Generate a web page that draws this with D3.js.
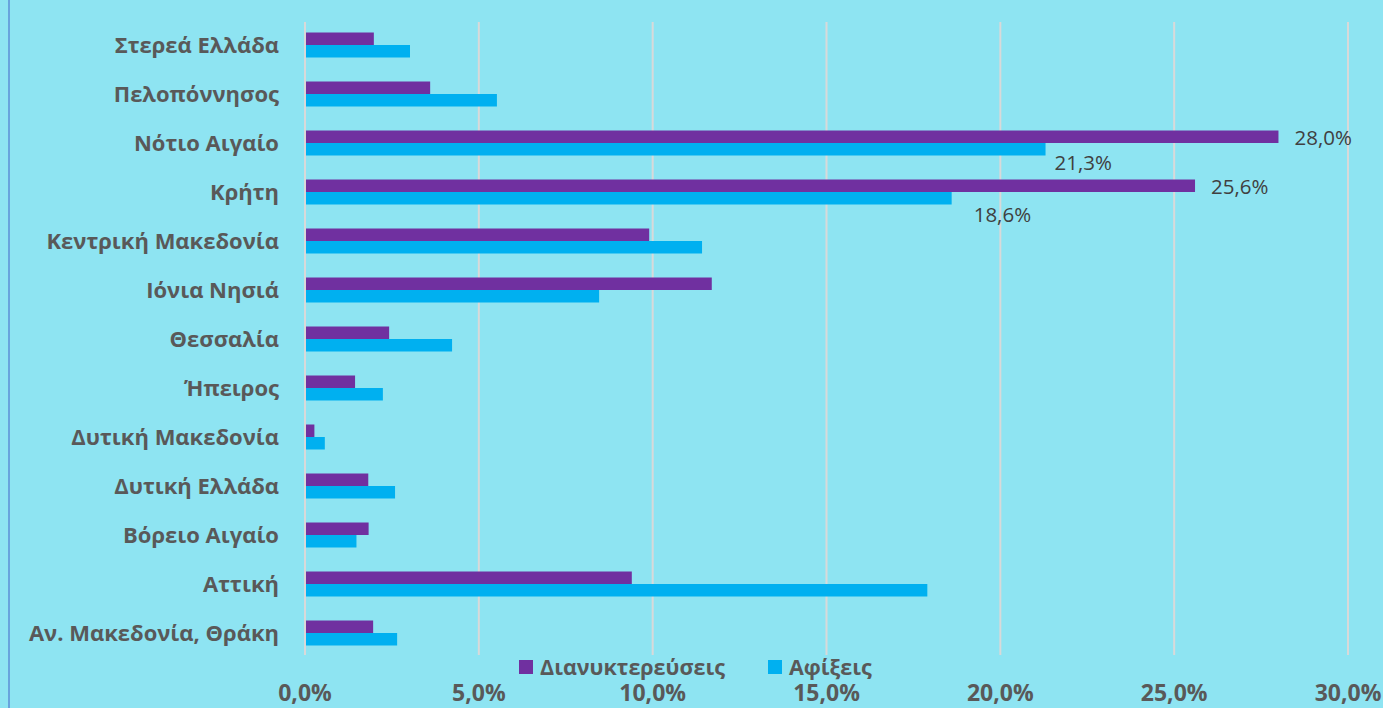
<!DOCTYPE html>
<html>
<head>
<meta charset="utf-8">
<script src="https://cdn.jsdelivr.net/npm/d3@7"></script>
<style>
    body { margin: 0; background: #8ee4f2; }
    svg { display: block; font-family: "Open Sans", sans-serif; }
</style>
</head>
<body>
<svg id="chart" width="1383" height="708"></svg>
<script>
const regions = ["Στερεά Ελλάδα", "Πελοπόννησος", "Νότιο Αιγαίο", "Κρήτη", "Κεντρική Μακεδονία",
    "Ιόνια Νησιά", "Θεσσαλία", "Ήπειρος", "Δυτική Μακεδονία", "Δυτική Ελλάδα",
    "Βόρειο Αιγαίο", "Αττική", "Αν. Μακεδονία, Θράκη"];
const overnights = [1.98, 3.6, 28.0, 25.6, 9.9, 11.7, 2.42, 1.44, 0.27, 1.82, 1.83, 9.4, 1.96];
const arrivals = [3.02, 5.52, 21.3, 18.6, 11.42, 8.46, 4.23, 2.24, 0.57, 2.59, 1.48, 17.9, 2.65];
const seriesNames = ["Διανυκτερεύσεις", "Αφίξεις"];
const xTicks = [0, 5, 10, 15, 20, 25, 30];
const labelled = ["Νότιο Αιγαίο", "Κρήτη"];

const colors = ["#7030a0", "#00b0f0"];
const svg = d3.select("#chart");

// left frame line
svg.append("line")
    .attr("x1", 9).attr("x2", 9).attr("y1", 0).attr("y2", 708)
    .attr("stroke", "#5b8fd6").attr("stroke-width", 1.5);

const x = d3.scaleLinear().domain([0, 30]).range([305, 1348]);
const y = d3.scaleBand().domain(regions).range([20.5, 657.5]);
const sub = d3.scaleBand().domain(seriesNames).range([0, 25]);
const pad = (y.bandwidth() - 25) / 2;

// gridlines
svg.append("g")
    .selectAll("line")
    .data(xTicks)
    .enter().append("line")
    .attr("x1", d => x(d)).attr("x2", d => x(d))
    .attr("y1", 22).attr("y2", 655)
    .attr("stroke", "#d9d9d9").attr("stroke-width", 2);

const rows = regions.map((r, i) => ({ region: r, vals: [overnights[i], arrivals[i]] }));

const g = svg.append("g")
    .selectAll("g")
    .data(rows)
    .enter().append("g")
    .attr("transform", d => `translate(0,${y(d.region) + pad})`);

g.selectAll("rect")
    .data(d => d.vals.map((v, k) => ({ v, k })))
    .enter().append("rect")
    .attr("x", x(0) + 1)
    .attr("y", d => sub(seriesNames[d.k]))
    .attr("width", d => x(d.v) - x(0) - 1)
    .attr("height", sub.bandwidth())
    .attr("fill", d => colors[d.k]);

// category labels
svg.append("g")
    .selectAll("text")
    .data(regions)
    .enter().append("text")
    .attr("x", 279)
    .attr("y", d => y(d) + y.bandwidth() / 2)
    .attr("dy", "0.35em")
    .attr("text-anchor", "end")
    .attr("font-size", 22)
    .attr("font-weight", "bold")
    .attr("fill", "#595959")
    .text(d => d);

// data labels (manually placed in original)
const labelOffsets = [[[16, 1], [9, 14]], [[16, 1], [22, 17]]];
labelled.forEach((r, i) => {
    const idx = regions.indexOf(r);
    [overnights[idx], arrivals[idx]].forEach((v, k) => {
        const off = labelOffsets[i][k];
        svg.append("text")
            .attr("x", x(v) + off[0])
            .attr("y", y(r) + pad + sub(seriesNames[k]) + sub.bandwidth() / 2 + off[1])
            .attr("dy", "0.35em")
            .attr("font-size", 20.5)
            .attr("fill", "#404040")
            .text(v.toFixed(1).replace(".", ",") + "%");
    });
});

// x axis tick labels
svg.append("g")
    .selectAll("text")
    .data(xTicks)
    .enter().append("text")
    .attr("x", d => x(d))
    .attr("y", 693)
    .attr("dy", "0.35em")
    .attr("text-anchor", "middle")
    .attr("font-size", 23)
    .attr("font-weight", "bold")
    .attr("fill", "#595959")
    .text(d => d.toFixed(1).replace(".", ",") + "%");

// legend
const legendX = [519, 768];
const leg = svg.append("g")
    .selectAll("g")
    .data(seriesNames)
    .enter().append("g")
    .attr("transform", (d, i) => `translate(${legendX[i]},660)`);
leg.append("rect").attr("width", 14).attr("height", 14).attr("fill", (d, i) => colors[i]);
leg.append("text")
    .attr("x", 21).attr("y", 7).attr("dy", "0.35em")
    .attr("font-size", 21.5).attr("font-weight", "bold").attr("fill", "#595959")
    .text(d => d);
</script>
</body>
</html>
